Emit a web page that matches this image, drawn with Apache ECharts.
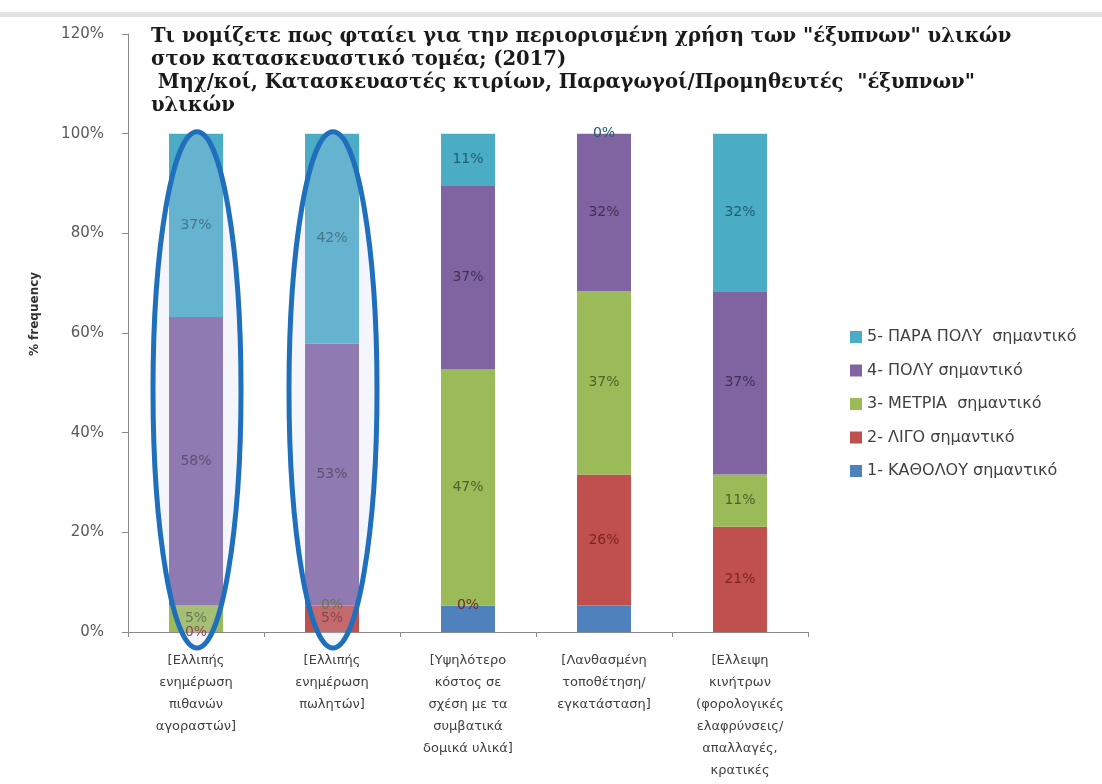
<!DOCTYPE html>
<html>
<head>
<meta charset="utf-8">
<script src="https://cdn.jsdelivr.net/npm/echarts@6/dist/echarts.min.js"></script>
<style>
  html, body { margin: 0; padding: 0; background: #fff; }
  #chart { width: 1102px; height: 784px; }
</style>
</head>
<body>
<div id="chart"></div>
<script>
// categories (x axis)
const categories = [
  '[Ελλιπής\nενημέρωση\nπιθανών\nαγοραστών]',
  '[Ελλιπής\nενημέρωση\nπωλητών]',
  '[Υψηλότερο\nκόστος σε\nσχέση με τα\nσυμβατικά\nδομικά υλικά]',
  '[Λανθασμένη\nτοποθέτηση/\nεγκατάσταση]',
  '[Ελλειψη\nκινήτρων\n(φορολογικές\nελαφρύνσεις/\nαπαλλαγές,\nκρατικές'
]
// series values, % (stack order bottom -> top)
const kathoulou = [0, 0, 5.3, 5.3, 0]
const ligo = [0, 5.3, 0, 26.3, 21.1]
const metria = [5.3, 0, 47.4, 36.8, 10.5]
const poly = [57.9, 52.6, 36.8, 31.6, 36.8]
const paraPoly = [36.8, 42.1, 10.5, 0, 31.6]
const yTicks = [0, 20, 40, 60, 80, 100, 120]

const seriesNames = [
  '1- ΚΑΘΟΛΟΥ σημαντικό',
  '2- ΛΙΓΟ σημαντικό',
  '3- ΜΕΤΡΙΑ  σημαντικό',
  '4- ΠΟΛΥ σημαντικό',
  '5- ΠΑΡΑ ΠΟΛΥ  σημαντικό'
]
const seriesData = [kathoulou, ligo, metria, poly, paraPoly]
const barColors = ['#4f81bd', '#c0504d', '#9bbb59', '#8064a2', '#4bacc6']
const labelColors = [null, '#7b2523', '#4f6228', '#3f3151', '#215f6e']

const titleText = 'Τι νομίζετε πως φταίει για την περιορισμένη χρήση των "έξυπνων" υλικών\n' +
  'στον κατασκευαστικό τομέα; (2017)\n' +
  ' Μηχ/κοί, Κατασκευαστές κτιρίων, Παραγωγοί/Προμηθευτές  "έξυπνων"\n' +
  'υλικών'

let myChart = echarts.init(document.getElementById('chart'))

let series = seriesData.map((data, i) => ({
  name: seriesNames[i],
  type: 'bar',
  stack: 'total',
  data: data,
  barWidth: 54,
  itemStyle: { color: barColors[i] },
  label: {
    show: i > 0, // blue segments carry no label
    position: 'inside',
    formatter: p => Math.round(p.value) + '%',
    color: labelColors[i] || '#000',
    fontFamily: 'DejaVu Sans',
    fontSize: 14
  }
}))

let option = {
  animation: false,
  backgroundColor: '#fff',
  title: {
    text: titleText,
    left: 146,
    top: 20,
    textStyle: {
      fontFamily: 'DejaVu Serif',
      fontWeight: 'bold',
      fontSize: 19.6,
      lineHeight: 23,
      color: '#1a1a1a'
    }
  },
  legend: {
    orient: 'vertical',
    left: 845,
    top: 324,
    icon: 'rect',
    itemWidth: 12,
    itemHeight: 12,
    itemGap: 17.5,
    data: seriesNames.slice().reverse(),
    textStyle: {
      fontFamily: 'DejaVu Sans',
      fontSize: 16,
      lineHeight: 14,
      color: '#404040'
    }
  },
  grid: {
    left: 128,
    right: 294,
    top: 34,
    bottom: 152
  },
  xAxis: {
    type: 'category',
    data: categories,
    axisLine: { lineStyle: { color: '#8a8a8a' } },
    axisTick: { show: true, length: 5, lineStyle: { color: '#8a8a8a' } },
    axisLabel: {
      interval: 0,
      margin: 18,
      fontFamily: 'DejaVu Sans',
      fontSize: 13,
      lineHeight: 22,
      color: '#404040'
    }
  },
  yAxis: {
    type: 'value',
    min: yTicks[0],
    max: yTicks[yTicks.length - 1],
    interval: 20,
    splitLine: { show: false },
    axisLine: { show: true, lineStyle: { color: '#8a8a8a' } },
    axisTick: { show: true, length: 6, lineStyle: { color: '#8a8a8a' } },
    axisLabel: {
      formatter: '{value}%',
      margin: 24,
      fontFamily: 'DejaVu Sans',
      fontSize: 15,
      color: '#595959'
    }
  },
  series: series
}
myChart.setOption(option)

// annotations: band at top, axis name, ellipses around first two bars
let graphics = [
  {
    type: 'rect',
    shape: { x: 0, y: 12, width: 1102, height: 5 },
    style: { fill: '#e2e2e2' },
    silent: true
  },
  {
    type: 'text',
    x: 35,
    y: 314,
    rotation: Math.PI / 2,
    style: {
      text: '% frequency',
      fontFamily: 'DejaVu Sans',
      fontWeight: 'bold',
      fontSize: 12,
      fill: '#333',
      align: 'center',
      verticalAlign: 'middle'
    }
  }
]
for (let i = 0; i < 2; i++) {
  let top = myChart.convertToPixel({ xAxisIndex: 0, yAxisIndex: 0 }, [i, 100.4])
  let bottom = myChart.convertToPixel({ xAxisIndex: 0, yAxisIndex: 0 }, [i, -3.2])
  graphics.push({
    type: 'ellipse',
    shape: {
      cx: top[0] + 1,
      cy: (top[1] + bottom[1]) / 2,
      rx: 44,
      ry: (bottom[1] - top[1]) / 2
    },
    style: {
      fill: 'rgba(205,210,240,0.2)',
      stroke: '#1f6fbd',
      lineWidth: 5
    },
    z: 100
  })
}
myChart.setOption({ graphic: graphics })
</script>
</body>
</html>
